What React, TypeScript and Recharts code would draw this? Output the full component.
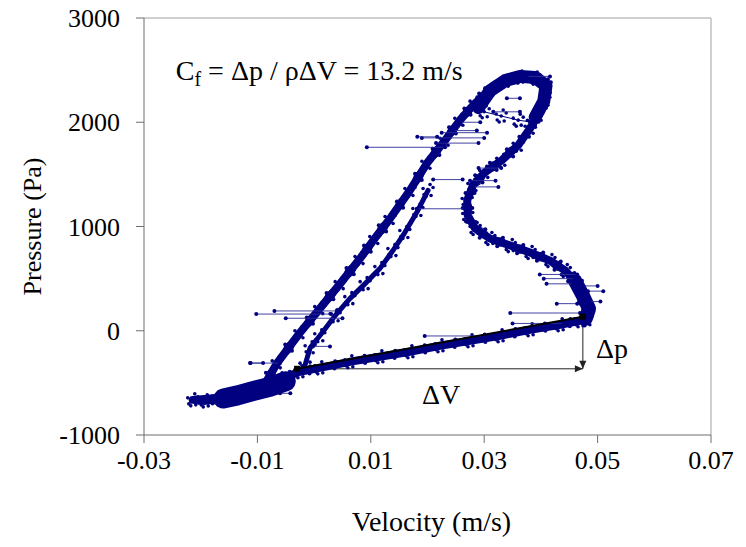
import React from 'react';
import { ScatterChart, Scatter, XAxis, YAxis, ReferenceLine, ReferenceDot } from 'recharts';

const NAVY = '#000080';
const FONT = "'Liberation Serif', 'Times New Roman', Tinos, 'DejaVu Serif', serif";

const xTicks = [-0.03, -0.01, 0.01, 0.03, 0.05, 0.07];
const yTicks = [-1000, 0, 1000, 2000, 3000];

// velocity (m/s), pressure (Pa) — centre line of the dense hysteresis loop
const mainLoop: [number, number][] = [
  [-0.0092, -558], [-0.0065, -308], [-0.0025, -19], [0.0010, 212], [0.0046, 452],
  [0.0081, 692], [0.0107, 885], [0.0134, 1077], [0.0169, 1346], [0.0199, 1606],
  [0.0231, 1827], [0.0257, 2019], [0.0284, 2183], [0.0310, 2308], [0.0337, 2394],
  [0.0363, 2433], [0.0390, 2423], [0.0409, 2356], [0.0407, 2211], [0.0395, 2067],
  [0.0381, 1942], [0.0360, 1779], [0.0331, 1635], [0.0301, 1519], [0.0280, 1394],
  [0.0270, 1250], [0.0271, 1106], [0.0284, 981], [0.0310, 885], [0.0346, 817],
  [0.0381, 750], [0.0416, 673], [0.0443, 577], [0.0464, 452], [0.0474, 317],
  [0.0483, 192], [0.0481, 106], [0.0469, 96], [0.0434, 58], [0.0381, 10],
  [0.0328, -48], [0.0275, -96], [0.0222, -144], [0.0169, -202], [0.0116, -250],
  [0.0063, -298], [0.0010, -356], [-0.0025, -394], [-0.0060, -462], [-0.0095, -538],
  [-0.0131, -606], [-0.0166, -654], [-0.0192, -673], [-0.0214, -663], [-0.0152, -635],
  [-0.0092, -558],
];

const midTrace: [number, number][] = [
  [-0.0072, -463], [-0.0051, -133], [-0.0002, 66], [0.0022, 362], [0.0070, 542],
  [0.0088, 818], [0.0127, 951], [0.0146, 1241], [0.0190, 1446], [0.0209, 1746],
  [0.0250, 1893], [0.0265, 2131], [0.0303, 2215], [0.0318, 2381], [0.0356, 2383],
  [0.0371, 2458], [0.0405, 2360], [0.0416, 2283], [0.0393, 2139], [0.0396, 2004],
  [0.0362, 1860], [0.0351, 1672], [0.0310, 1612], [0.0297, 1421], [0.0267, 1322],
  [0.0279, 1178], [0.0270, 1043], [0.0302, 973], [0.0323, 811], [0.0369, 823],
  [0.0393, 671], [0.0435, 665], [0.0448, 474], [0.0477, 384], [0.0471, 254],
  [0.0490, 149], [0.0475, 66], [0.0452, 112], [0.0408, -1], [0.0355, 16],
  [0.0302, -107], [0.0249, -85], [0.0196, -208], [0.0143, -191], [0.0090, -309],
  [0.0037, -292], [-0.0008, -410], [-0.0043, -393], [-0.0078, -535], [-0.0113, -537],
  [-0.0149, -665], [-0.0179, -629], [-0.0203, -690],
];

const edgeTrace: [number, number][] = [
  [-0.0085, -403], [-0.0039, -193], [-0.0013, 126], [0.0034, 302], [0.0057, 602],
  [0.0100, 758], [0.0114, 1011], [0.0157, 1181], [0.0178, 1506], [0.0221, 1686],
  [0.0238, 1953], [0.0276, 2071], [0.0291, 2275], [0.0329, 2321], [0.0344, 2443],
  [0.0382, 2398], [0.0394, 2420], [0.0400, 2283], [0.0409, 2139], [0.0380, 2004],
  [0.0379, 1860], [0.0340, 1742], [0.0322, 1542], [0.0284, 1491], [0.0283, 1322],
  [0.0262, 1178], [0.0285, 1043], [0.0292, 893], [0.0333, 891], [0.0358, 743],
  [0.0404, 751], [0.0424, 585], [0.0459, 554], [0.0461, 384], [0.0486, 254],
  [0.0474, 149], [0.0475, 136], [0.0451, 42], [0.0407, 69], [0.0354, -54],
  [0.0301, -37], [0.0248, -155], [0.0195, -138], [0.0142, -261], [0.0089, -239],
  [0.0036, -362], [-0.0007, -340], [-0.0042, -463], [-0.0077, -465], [-0.0113, -607],
  [-0.0148, -595], [-0.0179, -699], [-0.0203, -646],
];

const innerStrand: [number, number][] = [
  [-0.0016, -330], [-0.0007, -163], [0.0010, -48], [0.0037, 144], [0.0063, 308],
  [0.0090, 452], [0.0116, 596], [0.0139, 769], [0.0160, 942], [0.0183, 1154],
  [0.0201, 1346],
];

const blobCore: [number, number][] = [
  [-0.0160, -650], [-0.0135, -620], [-0.0108, -580], [-0.0078, -538], [-0.0050, -485],
];

const topCore: [number, number][] = [
  [0.0290, 2140], [0.0310, 2300], [0.0337, 2400], [0.0363, 2440], [0.0390, 2430],
  [0.0409, 2350], [0.0405, 2200], [0.0390, 2050],
];

const topFill: [number, number][] = [
  [0.0300, 2100], [0.0330, 2060], [0.0360, 2020], [0.0385, 2000],
];

const cornerCore: [number, number][] = [
  [0.0460, 481], [0.0474, 337], [0.0485, 212], [0.0479, 115],
];

// isolated excursions (horizontal jumps): from band velocity, to far velocity, at pressure
const spikeFrom = [0.0231, 0.0190, 0.0215, 0.0225, 0.0181, 0.0210, 0.0280, 0.0290, 0.0275, 0.0464,
  0.0460, 0.0457, 0.0464, 0.0469, 0.0440, 0.0483, 0.0485, 0.0475, 0.0298, 0.0030,
  0.0040, 0.0050, -0.0060, 0.0028, 0.0375, 0.0316, 0.0340, 0.0245, 0.0257, 0.0182,
  -0.0090, -0.0060];
const spikeTo = [0.0093, 0.0300, 0.0290, 0.0305, 0.0266, 0.0262, 0.0325, 0.0330, 0.0320, 0.0398,
  0.0405, 0.0410, 0.0428, 0.0346, 0.0350, 0.0510, 0.0505, 0.0500, 0.0195, -0.0102,
  -0.0070, -0.0050, -0.0113, -0.0002, 0.0416, 0.0363, 0.0363, 0.0287, 0.0293, 0.0217,
  -0.0112, -0.0042];
const spikeP = [1760, 1850, 1800, 1900, 1170, 1450, 1380, 1560, 1440, 540,
  500, 450, 260, 170, 70, 380, 280, 430, -50, 160,
  190, 120, -310, -150, 2440, 2100, 2230, 1920, 2000, 1860,
  -310, -600];

const fitV = [-0.0030, 0.0474];
const fitP = [-365, 135];

const toPts = (arr: [number, number][]) => arr.map(([v, p]) => ({ x: v, y: p }));

const noShape = () => <g />;
const clusterOffsets = [[0, 0], [5, -3], [-4, 4], [3, 5], [-5, -2], [2, -6], [-2, 6]];
const clusterShape = (props: any) => (
  <g>
    {clusterOffsets.map(([dx, dy], i) => (
      <circle key={i} cx={props.cx + dx} cy={props.cy + dy} r={1.8} fill={NAVY} />
    ))}
  </g>
);
const dotShape = (props: any) => <circle cx={props.cx} cy={props.cy} r={2} fill={NAVY} />;
const squareShape = (props: any) => (
  <rect x={props.cx - 3} y={props.cy - 3} width={6} height={6} fill="#000" />
);

const arrowShape = (props: any) => {
  const { x1, y1, x2, y2 } = props;
  const ang = Math.atan2(y2 - y1, x2 - x1);
  const L = 8, W = 3.5;
  const bx = x2 - L * Math.cos(ang), by = y2 - L * Math.sin(ang);
  const px = -Math.sin(ang) * W, py = Math.cos(ang) * W;
  return (
    <g>
      <line x1={x1} y1={y1} x2={x2} y2={y2} stroke="#222" strokeWidth={1} />
      <polygon points={`${x2},${y2} ${bx + px},${by + py} ${bx - px},${by - py}`} fill="#222" />
    </g>
  );
};

const serif = { fontFamily: FONT };

export default function App() {
  const bandLine = (w: number) => ({ stroke: NAVY, strokeWidth: w, strokeLinejoin: 'round', strokeLinecap: 'round' });
  return (
    <div style={{ position: 'absolute', left: 0, top: 0, background: '#fff', fontFamily: FONT }}>
      <ScatterChart width={746} height={547} margin={{ top: 18, right: 35, bottom: 0, left: 0 }} style={serif}>
        <XAxis
          type="number"
          dataKey="x"
          domain={[-0.03, 0.07]}
          ticks={xTicks}
          interval={0}
          allowDataOverflow
          height={112}
          tickSize={8}
          tickMargin={8}
          axisLine={{ stroke: '#6e6e6e' }}
          tickLine={{ stroke: '#6e6e6e' }}
          tick={{ fill: '#000', fontSize: 26, fontFamily: FONT, style: serif }}
          tickFormatter={(v: number) => String(v)}
          label={(p: any) => {
            const vb = p.viewBox;
            return (
              <text x={vb.x + vb.width / 2 + 4} y={531} textAnchor="middle" fontSize={28} fill="#000" fontFamily={FONT} style={serif}>
                Velocity (m/s)
              </text>
            );
          }}
        />
        <YAxis
          type="number"
          dataKey="y"
          domain={[-1000, 3000]}
          ticks={yTicks}
          interval={0}
          allowDataOverflow
          width={144}
          tickSize={8}
          tickMargin={16}
          axisLine={{ stroke: '#6e6e6e' }}
          tickLine={{ stroke: '#6e6e6e' }}
          tick={{ fill: '#000', fontSize: 26, fontFamily: FONT, style: serif }}
          label={(p: any) => {
            const vb = p.viewBox;
            const cy = vb.y + vb.height / 2;
            return (
              <text x={32} y={cy} transform={`rotate(-90 32 ${cy})`} textAnchor="middle" dominantBaseline="central" fontSize={26} fill="#000" fontFamily={FONT} style={serif}>
                Pressure (Pa)
              </text>
            );
          }}
        />
        <ReferenceLine y={3000} stroke="#a0a0a0" strokeWidth={1} />
        <ReferenceLine x={0.07} stroke="#a0a0a0" strokeWidth={1} />

        <Scatter data={toPts(blobCore)} line={bandLine(20)} lineType="joint" shape={noShape} isAnimationActive={false} />
        <Scatter data={toPts(topCore)} line={bandLine(13)} lineType="joint" shape={noShape} isAnimationActive={false} />
        <Scatter data={toPts(topFill)} line={{ stroke: NAVY, strokeWidth: 1 }} lineType="joint" shape={clusterShape} isAnimationActive={false} />
        <Scatter data={toPts(cornerCore)} line={bandLine(14)} lineType="joint" shape={noShape} isAnimationActive={false} />
        <Scatter data={toPts(mainLoop)} line={bandLine(8)} lineType="joint" shape={clusterShape} isAnimationActive={false} />
        <Scatter data={toPts(innerStrand)} line={bandLine(5)} lineType="joint" shape={clusterShape} isAnimationActive={false} />
        <Scatter data={toPts(midTrace)} line={{ stroke: NAVY, strokeWidth: 1 }} lineType="joint" shape={dotShape} isAnimationActive={false} />
        <Scatter data={toPts(edgeTrace)} line={{ stroke: NAVY, strokeWidth: 1 }} lineType="joint" shape={dotShape} isAnimationActive={false} />

        {spikeP.map((p, i) => (
          <Scatter
            key={`s${i}`}
            data={[{ x: spikeFrom[i], y: p }, { x: spikeTo[i], y: p }]}
            line={{ stroke: '#2e2e98', strokeWidth: 0.9 }}
            lineType="joint"
            shape={dotShape}
            isAnimationActive={false}
          />
        ))}

        <Scatter
          data={[{ x: fitV[0], y: fitP[0] }, { x: fitV[1], y: fitP[1] }]}
          line={{ stroke: '#000', strokeWidth: 2 }}
          lineType="joint"
          shape={squareShape}
          isAnimationActive={false}
        />
        <ReferenceLine segment={[{ x: fitV[0], y: fitP[0] }, { x: fitV[1], y: fitP[0] }]} shape={arrowShape} />
        <ReferenceLine segment={[{ x: fitV[1], y: fitP[1] }, { x: fitV[1], y: fitP[0] }]} shape={arrowShape} />

        <ReferenceDot
          x={-0.0244}
          y={2404}
          r={0}
          shape={(p: any) => (
            <text x={p.cx} y={p.cy} fontSize={28} fill="#000" fontFamily={FONT} style={serif}>
              C<tspan fontSize={20} dy={6}>f</tspan>
              <tspan dy={-6}>{' = \u0394p / \u03c1\u0394V = 13.2 m/s'}</tspan>
            </text>
          )}
        />
        <ReferenceDot
          x={0.0497}
          y={-260}
          r={0}
          shape={(p: any) => (
            <text x={p.cx} y={p.cy} fontSize={28} fill="#000" fontFamily={FONT} style={serif}>{'\u0394p'}</text>
          )}
        />
        <ReferenceDot
          x={0.0224}
          y={-702}
          r={0}
          shape={(p: any) => (
            <text x={p.cx} y={p.cy} fontSize={28} textAnchor="middle" fill="#000" fontFamily={FONT} style={serif}>{'\u0394V'}</text>
          )}
        />
      </ScatterChart>
    </div>
  );
}
